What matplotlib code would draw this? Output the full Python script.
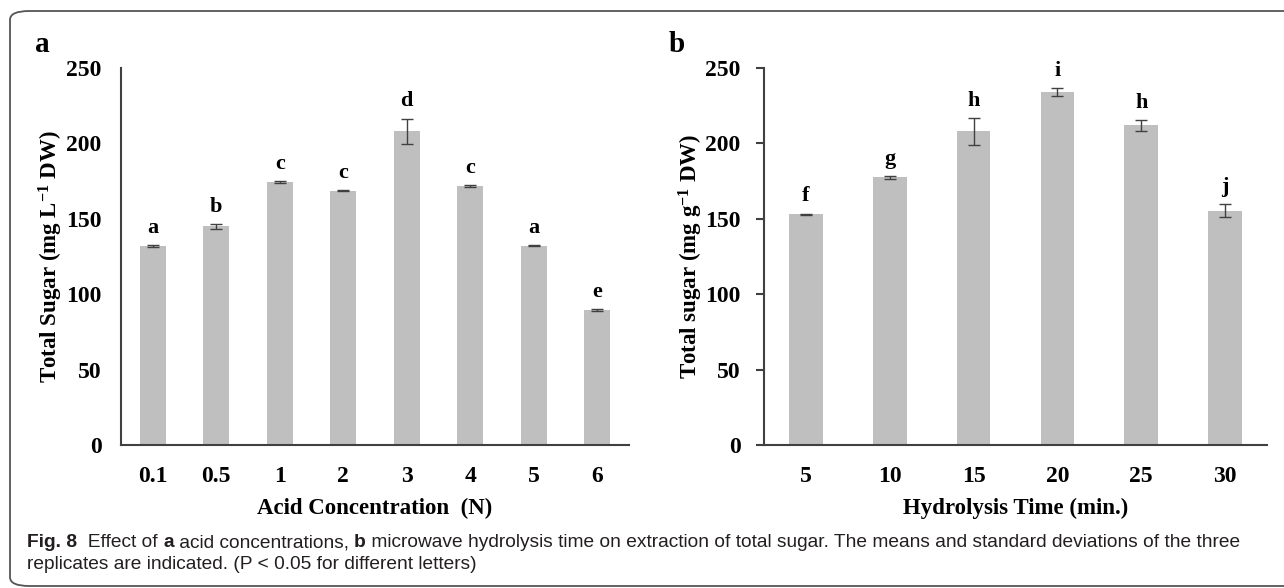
import matplotlib
matplotlib.use("Agg")
import matplotlib.pyplot as plt
import numpy as np
from matplotlib import font_manager
from matplotlib.patches import FancyBboxPatch

# panel a: acid concentration
acid_labels = ["0.1", "0.5", "1", "2", "3", "4", "5", "6"]
acid_sugar = [132, 145, 174.5, 168.5, 208, 171.5, 132, 89.5]
acid_err = [0.8, 1.8, 0.6, 0.3, 8.5, 0.6, 0.3, 0.5]
acid_letters = ["a", "b", "c", "c", "d", "c", "a", "e"]

# panel b: hydrolysis time
time_labels = ["5", "10", "15", "20", "25", "30"]
time_sugar = [153, 177.5, 208, 234, 212, 155.5]
time_err = [0.5, 1.0, 9.0, 2.5, 3.5, 4.0]
time_letters = ["f", "g", "h", "i", "h", "j"]

serif = "Liberation Serif"
names = {f.name for f in font_manager.fontManager.ttflist}
cap_font = "Liberation Sans Narrow" if "Liberation Sans Narrow" in names else "Liberation Sans"

plt.rcParams["mathtext.fontset"] = "custom"
plt.rcParams["mathtext.rm"] = "Liberation Serif:bold"
plt.rcParams["mathtext.bf"] = "Liberation Serif:bold"
plt.rcParams["mathtext.default"] = "rm"

bar_color = "#bfbfbf"
line_color = "#404040"

fig = plt.figure(figsize=(12.84, 5.88), dpi=100)

# rounded border (runs off the right edge like the source)
fig.patches.append(FancyBboxPatch((10 / 1284, 2 / 588), 1.05, 575 / 588,
                                  boxstyle="round,pad=0,rounding_size=0.015",
                                  transform=fig.transFigure, fill=False,
                                  edgecolor="#555555", linewidth=1.3))

ax1 = fig.add_axes([121 / 1284, 1 - 445 / 588, 508 / 1284, 377 / 588])
ax2 = fig.add_axes([764 / 1284, 1 - 445 / 588, 503 / 1284, 377 / 588])


def draw_panel(ax, labels, vals, errs, letters, width, yticks_on):
    x = np.arange(len(labels))
    ax.bar(x, vals, width=width, color=bar_color, zorder=2)
    ax.errorbar(x, vals, yerr=errs, fmt="none", ecolor=line_color,
                elinewidth=1.0, capsize=4, capthick=1.0, zorder=3)
    for xi, v, e, lt in zip(x, vals, errs, letters):
        ax.text(xi, v + e + 8, lt, ha="center", va="baseline",
                fontfamily=serif, fontweight="bold", fontsize=16)
    ax.set_xlim(-0.5, len(labels) - 0.5)
    ax.set_ylim(0, 250)
    ax.set_yticks(range(0, 251, 50))
    ax.set_xticks(x)
    ax.set_xticklabels(labels)
    for s in ["top", "right"]:
        ax.spines[s].set_visible(False)
    for s in ["left", "bottom"]:
        ax.spines[s].set_color(line_color)
        ax.spines[s].set_linewidth(1.5)
    ax.tick_params(axis="x", length=0, pad=15)
    if yticks_on:
        ax.tick_params(axis="y", length=6, width=1.5, color=line_color, pad=11)
    else:
        ax.tick_params(axis="y", length=0, pad=14)
    for t in ax.get_xticklabels() + ax.get_yticklabels():
        t.set_fontfamily(serif)
        t.set_fontweight("bold")
        t.set_fontsize(17)


draw_panel(ax1, acid_labels, acid_sugar, acid_err, acid_letters, 0.41, False)
draw_panel(ax2, time_labels, time_sugar, time_err, time_letters, 0.40, True)

lab = dict(fontfamily=serif, fontweight="bold", fontsize=16.5)
ax1.set_xlabel("Acid Concentration  (N)", labelpad=8, **lab)
ax2.set_xlabel("Hydrolysis Time (min.)", labelpad=8, **lab)
ax1.set_ylabel("Total Sugar (mg L$^{-1}$ DW)", labelpad=1, **lab)
ax2.set_ylabel("Total sugar (mg g$^{-1}$ DW)", labelpad=0, **lab)

fig.text(35 / 1284, 1 - 52 / 588, "a", fontfamily=serif, fontweight="bold", fontsize=21)
fig.text(669 / 1284, 1 - 52 / 588, "b", fontfamily=serif, fontweight="bold", fontsize=21)

# caption, drawn piece by piece so bold words sit inline
line1 = [("Fig. 8", "bold"), ("  Effect of ", "normal"), ("a", "bold"),
         (" acid concentrations, ", "normal"), ("b", "bold"),
         (" microwave hydrolysis time on extraction of total sugar. The means and standard deviations of the three", "normal")]
line2 = [("replicates are indicated. (P < 0.05 for different letters)", "normal")]

fig.canvas.draw()
renderer = fig.canvas.get_renderer()
for parts, ypx in [(line1, 547), (line2, 569)]:
    xpx = 27
    for txt, w in parts:
        t = fig.text(xpx / 1284, 1 - ypx / 588, txt, fontfamily=cap_font,
                     fontweight=w, fontsize=13.8, color="#231f20", va="baseline")
        bb = t.get_window_extent(renderer)
        xpx = bb.x1

plt.savefig("out.png", dpi=100)
